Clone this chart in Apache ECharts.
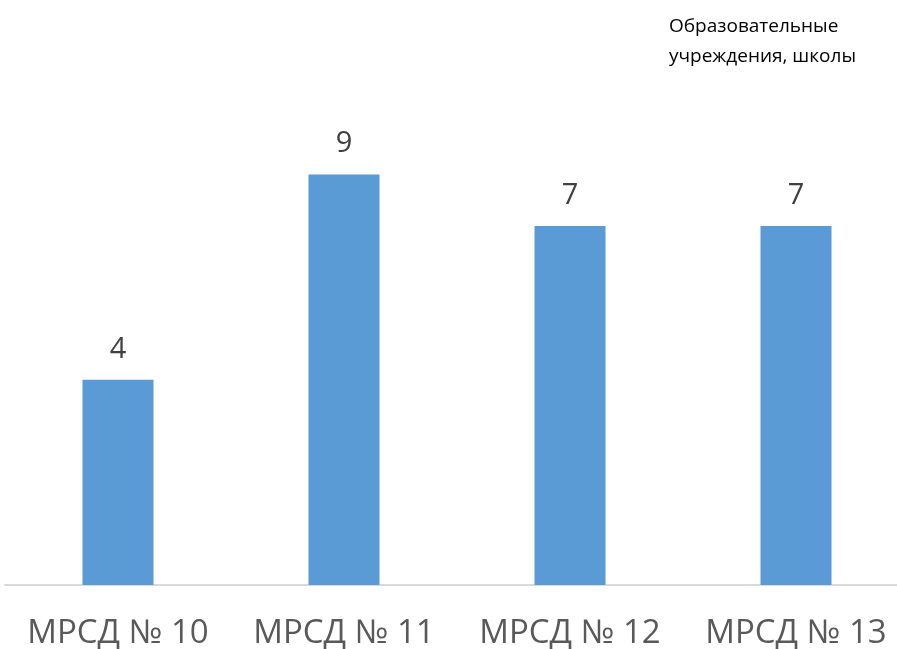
<!DOCTYPE html>
<html>
<head>
<meta charset="utf-8">
<script src="https://cdn.jsdelivr.net/npm/echarts@6/dist/echarts.min.js"></script>
<style>
  html, body { margin: 0; padding: 0; background: #fff; }
  #bar { width: 897px; height: 649px; }
</style>
</head>
<body>
<div id="bar"></div>
<script>
// 类目与数值
const categories = ['МРСД № 10', 'МРСД № 11', 'МРСД № 12', 'МРСД № 13']
// 柱子高度（按图中比例读取）
const barValues = [4, 8, 7, 7]
// 柱顶标注文字（图中原样）
const valueLabels = ['4', '9', '7', '7']
const titleText = 'Образовательные\nучреждения, школы'

const myBar = echarts.init(document.querySelector('#bar'))
const option = {
  animation: false,
  title: {
    text: titleText,
    left: 664,
    top: 7,
    textStyle: {
      fontFamily: 'Open Sans',
      fontSize: 19,
      fontWeight: 'normal',
      color: '#000',
      lineHeight: 30,
    },
  },
  // 图表整体位置，右侧略超出画布
  grid: {
    left: 5,
    width: 904,
    top: 72,
    bottom: 64,
    outerBoundsMode: 'none',
  },
  xAxis: {
    type: 'category',
    data: categories,
    axisTick: { show: false },
    axisLine: {
      lineStyle: { color: '#d9d9d9', width: 2 },
    },
    axisLabel: {
      interval: 0,
      margin: 32,
      fontFamily: 'Open Sans',
      fontSize: 33,
      color: '#595959',
    },
  },
  yAxis: {
    type: 'value',
    min: 0,
    max: 10,
    show: false,
  },
  series: [
    {
      type: 'bar',
      data: barValues,
      barWidth: 71,
      itemStyle: { color: '#5b9bd5' },
      label: {
        show: true,
        position: 'top',
        distance: 16,
        fontFamily: 'Open Sans',
        fontSize: 29,
        color: '#404040',
        formatter: p => valueLabels[p.dataIndex],
      },
    },
  ],
}
myBar.setOption(option)
</script>
</body>
</html>
